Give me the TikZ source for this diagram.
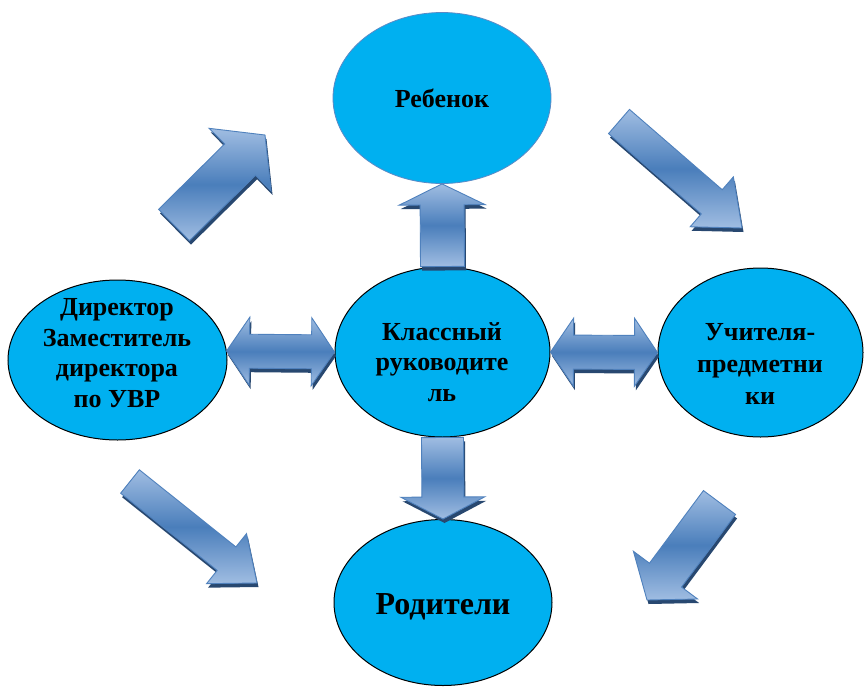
\documentclass[tikz,border=0pt]{standalone}
\usepackage{fontspec}
\setmainfont{Liberation Serif}
\usetikzlibrary{calc,shapes.geometric}
\definecolor{ellfill}{HTML}{00B0F0}
\definecolor{arrlight}{HTML}{A0BDE2}
\definecolor{arrdark}{HTML}{4A7EBB}
\definecolor{arrline}{HTML}{4F81BD}
\definecolor{arrshadow}{HTML}{284870}
\definecolor{rebline}{HTML}{5A8AC6}
\tikzset{
  ell/.style={ellipse, fill=ellfill, draw=black, line width=1pt, inner sep=0pt},
  lbl/.style={align=center, font=\fontsize{26}{30.5}\selectfont\bfseries, inner sep=0pt},
  arrbody/.style={draw=arrline, line width=0.9pt, line join=miter,
    top color=arrlight, bottom color=arrlight, middle color=arrdark},
  arrshade/.style={fill=arrshadow, transform canvas={shift={(1.5pt,-4pt)}}}
}
% single block arrow: name, tail, tip, shaft half width, head half width, head length
\newcommand\singlearrow[6]{%
  \coordinate (#1-h) at ($(#3)!#6!(#2)$);
  \coordinate (#1-t1) at ($(#2)!#4!90:(#3)$);
  \coordinate (#1-t2) at ($(#2)!#4!-90:(#3)$);
  \coordinate (#1-s1) at ($(#1-h)!#4!90:(#3)$);
  \coordinate (#1-s2) at ($(#1-h)!#4!-90:(#3)$);
  \coordinate (#1-b1) at ($(#1-h)!#5!90:(#3)$);
  \coordinate (#1-b2) at ($(#1-h)!#5!-90:(#3)$);
  \fill[arrshade] (#1-t1) -- (#1-s1) -- (#1-b1) -- (#3) -- (#1-b2) -- (#1-s2) -- (#1-t2) -- cycle;
  \draw[arrbody] (#1-t1) -- (#1-s1) -- (#1-b1) -- (#3) -- (#1-b2) -- (#1-s2) -- (#1-t2) -- cycle;
}
% double block arrow: name, left tip, right tip, shaft half width, head half width, head length
\newcommand\doublearrow[6]{%
  \coordinate (#1-hl) at ($(#2)!#6!(#3)$);
  \coordinate (#1-hr) at ($(#3)!#6!(#2)$);
  \coordinate (#1-a1) at ($(#1-hl)!#5!90:(#3)$);
  \coordinate (#1-a2) at ($(#1-hl)!#4!90:(#3)$);
  \coordinate (#1-a3) at ($(#1-hr)!#4!-90:(#2)$);
  \coordinate (#1-a4) at ($(#1-hr)!#5!-90:(#2)$);
  \coordinate (#1-a5) at ($(#1-hr)!#5!90:(#2)$);
  \coordinate (#1-a6) at ($(#1-hr)!#4!90:(#2)$);
  \coordinate (#1-a7) at ($(#1-hl)!#4!-90:(#3)$);
  \coordinate (#1-a8) at ($(#1-hl)!#5!-90:(#3)$);
  \fill[arrshade] (#2) -- (#1-a1) -- (#1-a2) -- (#1-a3) -- (#1-a4) -- (#3) -- (#1-a5) -- (#1-a6) -- (#1-a7) -- (#1-a8) -- cycle;
  \draw[arrbody] (#2) -- (#1-a1) -- (#1-a2) -- (#1-a3) -- (#1-a4) -- (#3) -- (#1-a5) -- (#1-a6) -- (#1-a7) -- (#1-a8) -- cycle;
}
\begin{document}
\begin{tikzpicture}[x=1pt,y=-1pt]
\useasboundingbox[fill=white] (0,0) rectangle (865,686);

% ellipses
\node[ell, draw=rebline, line width=0.8pt, minimum width=218pt, minimum height=171pt] (reb) at (442,98) {};
\node[ell, minimum width=215pt, minimum height=170pt] (cls) at (442.5,352) {};
\node[ell, minimum width=219pt, minimum height=160pt] (dir) at (117.5,360) {};
\node[ell, minimum width=205pt, minimum height=169pt] (uch) at (760.5,352.5) {};
\node[ell, minimum width=218pt, minimum height=166pt] (rod) at (443,602.5) {};

% texts
\node[lbl] (rebt) at (442,98) {Ребенок};
\node[lbl] (clst) at (442,362) {Классный\\руководите\\ль};
\node[lbl] (dirt) at (117,353) {Директор\\Заместитель\\директора\\по УВР};
\node[lbl, font=\fontsize{26}{32}\selectfont\bfseries] (ucht) at (760,364) {Учителя-\\предметни\\ки};
\node[lbl, font=\fontsize{32}{36}\selectfont\bfseries] (rodt) at (443,607) {Родители};

% free ends of the arrows
\coordinate (ltip) at ($(dir.east |- cls.west)+(-1,-1)$);
\coordinate (a1t) at (174,225);
\coordinate (a1h) at (265,135);
\coordinate (a2t) at (619,121.5);
\coordinate (a2h) at (742,228);
\coordinate (a3t) at (130,481.5);
\coordinate (a3h) at (257,583);
\coordinate (a4t) at (719.5,502.5);
\coordinate (a4h) at (647,600);

% arrows
\singlearrow{up}{cls.north}{reb.south}{22pt}{43pt}{21pt}
\singlearrow{down}{cls.south}{rod.north}{21pt}{42pt}{22pt}
\doublearrow{lft}{ltip}{cls.west}{17pt}{34pt}{23pt}
\doublearrow{rgt}{cls.east}{uch.west}{17pt}{34pt}{23pt}
\singlearrow{dg1}{a1t}{a1h}{22pt}{44pt}{35pt}
\singlearrow{dg2}{a2t}{a2h}{16pt}{33pt}{40pt}
\singlearrow{dg3}{a3t}{a3h}{15pt}{32pt}{39pt}
\singlearrow{dg4}{a4t}{a4h}{20pt}{40pt}{31pt}
\end{tikzpicture}
\end{document}
